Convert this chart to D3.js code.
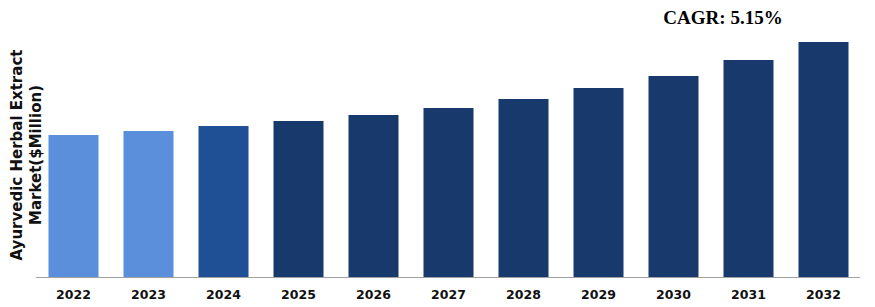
<!DOCTYPE html>
<html>
<head>
<meta charset="utf-8">
<script src="https://cdn.jsdelivr.net/npm/d3@7"></script>
<style>
  body { margin: 0; background: #fff; }
</style>
</head>
<body>
<div id="chart"></div>
<script>
// chart values ($ Million)
var years = ["2022", "2023", "2024", "2025", "2026", "2027", "2028", "2029", "2030", "2031", "2032"];
var values = [284, 292, 302, 312, 324, 338, 356, 378, 402, 434, 470];
var barColors = ["#5b8fdc", "#5b8fdc", "#1f4f94", "#17396c", "#17396c", "#17396c",
  "#17396c", "#17396c", "#17396c", "#17396c", "#17396c"];
var cagrLabel = "CAGR: 5.15%";
var yLabelLines = ["Ayurvedic Herbal Extract", "Market($Million)"];

var svgWidth = 875;
var svgHeight = 307;

var margin = { top: 42, right: 14, bottom: 30, left: 36 };
var width = svgWidth - margin.left - margin.right;
var height = svgHeight - margin.top - margin.bottom;

var svg = d3.select("#chart")
  .append("svg")
  .attr("width", svgWidth)
  .attr("height", svgHeight);

var chartGroup = svg.append("g")
  .attr("transform", `translate(${margin.left}, ${margin.top})`);

var data = years.map((y, i) => ({ year: y, value: values[i], color: barColors[i] }));

var xScale = d3.scaleBand()
  .domain(years)
  .range([0, 825])
  .paddingInner(1 / 3)
  .paddingOuter(1 / 6);

var yScale = d3.scaleLinear()
  .domain([0, d3.max(values)])
  .range([height, 0]);

// bars
chartGroup.selectAll("rect")
  .data(data)
  .enter()
  .append("rect")
  .attr("x", d => xScale(d.year))
  .attr("y", d => yScale(d.value))
  .attr("width", xScale.bandwidth())
  .attr("height", d => height - yScale(d.value))
  .attr("fill", d => d.color);

// x axis
var xAxis = chartGroup.append("g")
  .attr("transform", `translate(0, ${height})`)
  .call(d3.axisBottom(xScale).tickSize(0).tickPadding(13));

xAxis.select(".domain")
  .attr("stroke", "#a0a0a0")
  .attr("stroke-width", 1.2)
  .attr("d", "M0,0.5H824");

xAxis.selectAll("text")
  .attr("font-family", "DejaVu Sans, sans-serif")
  .attr("font-weight", "bold")
  .attr("font-size", "12.5px")
  .attr("fill", "#111");

// y axis title
var yTitle = svg.append("text")
  .attr("transform", "translate(0, 155) rotate(-90)")
  .attr("text-anchor", "middle")
  .attr("font-family", "DejaVu Sans, sans-serif")
  .attr("font-weight", "bold")
  .attr("font-size", "15px")
  .attr("fill", "#111");

yTitle.selectAll("tspan")
  .data(yLabelLines)
  .enter()
  .append("tspan")
  .attr("x", 0)
  .attr("y", (d, i) => 22 + i * 19)
  .text(d => d);

// CAGR note
svg.append("text")
  .attr("x", 723)
  .attr("y", 24)
  .attr("text-anchor", "middle")
  .attr("font-family", "Liberation Serif, serif")
  .attr("font-weight", "bold")
  .attr("font-size", "19px")
  .attr("fill", "#000")
  .text(cagrLabel);
</script>
</body>
</html>
